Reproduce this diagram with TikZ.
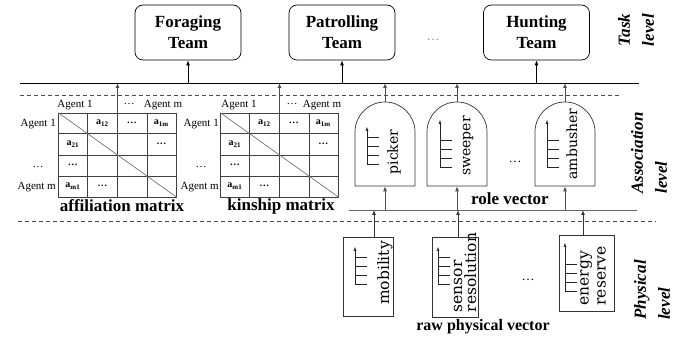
\documentclass[tikz,border=0pt]{standalone}
\usepackage{fontspec}
\setmainfont{Liberation Serif}
\newfontfamily\widefont{DejaVu Serif}
\usetikzlibrary{arrows.meta,shapes.misc,calc}

% small "vector" glyph: an upward arrow with four ticks
\tikzset{pics/vecicon/.style={code={
  \draw[black!85,-{Latex[length=4pt,width=3pt]}] (0,0) -- (0,-#1);
  \foreach \t in {1,10,19,28} \draw[black!85] (0,-\t) -- (12,-\t);
}}}

% one cell entry of an agent matrix
\newcommand\mcell[4]{%
  \node[cell] (#1-#2-#3) at ($(#1.north west)+({(#3-0.5)*29.5},{(#2-0.5)*21})$) {#4};}

% inner grid lines and diagonal of an agent matrix
\newcommand\mgrid[1]{%
  \foreach \i in {1,2,3} {
    \draw[gridline] ($(#1.north west)!\i/4!(#1.north east)$) -- ($(#1.south west)!\i/4!(#1.south east)$);
    \draw[gridline] ($(#1.north west)!\i/4!(#1.south west)$) -- ($(#1.north east)!\i/4!(#1.south east)$);
  }
  \draw[black!55, line width=0.7pt] (#1.north west) -- (#1.south east);}

\begin{document}
\begin{tikzpicture}[x=1pt,y=-1pt,
  >={Latex[length=5pt,width=4pt]},
  team/.style={draw, line width=0.7pt, rounded corners=8pt, minimum width=106pt,
    minimum height=55pt, align=center, inner sep=0pt,
    font=\fontsize{17}{21}\selectfont\bfseries},
  levellabel/.style={rotate=90, align=left, inner sep=0pt,
    font=\fontsize{17}{24}\selectfont\bfseries\itshape},
  rolebox/.style={rounded rectangle, rounded rectangle west arc=none, draw=black!80,
    line width=0.7pt, rotate=90, minimum width=84pt, minimum height=60pt, inner sep=0pt},
  rawbox/.style={draw=black!80, line width=0.7pt, inner sep=0pt},
  rolename/.style={rotate=90, inner sep=0pt, font=\widefont\fontsize{14}{14}\selectfont},
  rawname/.style={rotate=90, align=left, inner sep=0pt,
    font=\widefont\fontsize{15.5}{14}\selectfont},
  caption/.style={inner sep=0pt, font=\fontsize{17}{20}\selectfont\bfseries},
  agent/.style={inner sep=0pt, font=\fontsize{11}{12}\selectfont},
  cell/.style={inner sep=0pt, font=\fontsize{10}{12}\selectfont\bfseries},
  mgridbox/.style={draw=black!75, line width=0.7pt, minimum width=118pt,
    minimum height=84pt, inner sep=0pt},
  gridline/.style={draw=black!75, line width=0.7pt},
  mainline/.style={line width=0.9pt},
  grayline/.style={draw=black!60, line width=0.9pt},
  dashline/.style={draw=black!70, line width=0.7pt, dash pattern=on 4pt off 3pt},
  dots/.style={inner sep=0pt, font=\fontsize{13}{14}\selectfont},
]
\useasboundingbox (0,0) rectangle (694,339);

% ---------- task level ----------
\node[team] (forage) at (188,32.5) {Foraging\\Team};
\node[team] (patrol) at (342,32.5) {Patrolling\\Team};
\node[team] (hunt) at (536.5,32.5) {Hunting\\Team};
\node[dots, text=black!45] (team-dots) at (433,40) {\dots};
\node[levellabel] (task-lvl) at (636,30) {Task\\level};

\coordinate (tl-w) at (20,83);
\coordinate (tl-e) at (639,83);
\draw[mainline] (tl-w) -- (tl-e);
\foreach \t in {forage,patrol,hunt}
  \draw[->, mainline] (\t.south |- tl-w) -- (\t.south);

\coordinate (d1-w) at (20,95);
\coordinate (d1-e) at (620,95);
\draw[dashline] (d1-w) -- (d1-e);

% ---------- association level: agent matrices ----------
\node[mgridbox] (aff) at (117.5,155) {};
\node[mgridbox] (kin) at (279.5,155) {};
\mgrid{aff}
\mgrid{kin}
\foreach \m in {aff,kin} {
  \mcell{\m}{1}{2}{a\textsubscript{12}}
  \mcell{\m}{1}{3}{\dots}
  \mcell{\m}{1}{4}{a\textsubscript{1m}}
  \mcell{\m}{2}{1}{a\textsubscript{21}}
  \mcell{\m}{2}{4}{\dots}
  \mcell{\m}{3}{1}{\dots}
  \mcell{\m}{4}{1}{a\textsubscript{m1}}
  \mcell{\m}{4}{2}{\dots}
}

% column and row headers
\node[agent] (aff-c1) at (75,105) {Agent 1};
\node[agent] (aff-cd) at (129,104) {\dots};
\node[agent] (aff-cm) at (163,105) {Agent m};
\node[agent, anchor=east] (aff-r1) at (56,124) {Agent 1};
\node[agent] (aff-rd) at (38,167) {\dots};
\node[agent, anchor=east] (aff-rm) at (56,187) {Agent m};

\node[agent] (kin-c1) at (239,105) {Agent 1};
\node[agent] (kin-cd) at (292,104) {\dots};
\node[agent] (kin-cm) at (322,105) {Agent m};
\node[agent, anchor=east] (kin-r1) at (219,124) {Agent 1};
\node[agent] (kin-rd) at (201,167) {\dots};
\node[agent, anchor=east] (kin-rm) at (219,187) {Agent m};

\node[caption] (aff-cap) at (122,206) {affiliation matrix};
\node[caption] (kin-cap) at (281,206) {kinship matrix};

\draw[->, grayline, draw=black!70] (aff.north) -- (aff.north |- tl-w);
\draw[->, grayline, draw=black!70] (kin.north) -- (kin.north |- tl-w);

% ---------- association level: roles ----------
\node[rolebox] (picker) at (385,144) {};
\node[rolebox] (sweeper) at (457,144) {};
\node[rolebox] (ambusher) at (565,144) {};
\pic (picker-icon) at (367,165) {vecicon=38};
\pic (sweeper-icon) at (440,168) {vecicon=48};
\pic (ambusher-icon) at (547,168) {vecicon=48};
\node[rolename] (picker-txt) at (394,152) {picker};
\node[rolename] (sweeper-txt) at (468,146) {sweeper};
\node[rolename] (ambusher-txt) at (572,144) {ambusher};
\node[dots] (role-dots) at (515,162) {\dots};

\coordinate (rv-w) at (349,210);
\coordinate (rv-e) at (637,210);
\draw[grayline] (rv-w) -- (rv-e);
\node[caption] (rv-cap) at (510,199) {role vector};
\node[levellabel] (assoc-lvl) at (649,153) {Association\\level};

\foreach \r in {picker,sweeper,ambusher} {
  \draw[->, grayline, draw=black!70] (\r.east) -- (\r.east |- tl-w);
  \draw[->, grayline, draw=black!70] (\r.west |- rv-w) -- (\r.west);
}

\coordinate (d2-w) at (18,221);
\coordinate (d2-e) at (656,221);
\draw[dashline] (d2-w) -- (d2-e);

% ---------- physical level ----------
\node[rawbox, minimum width=50pt, minimum height=79pt] (mob) at (368,276.5) {};
\node[rawbox, minimum width=46pt, minimum height=80pt] (sens) at (455,277) {};
\node[rawbox, minimum width=55pt, minimum height=76pt] (energy) at (586.5,273) {};
\pic (mob-icon) at (355,285) {vecicon=38};
\pic (sens-icon) at (438,285) {vecicon=38};
\pic (energy-icon) at (565,292) {vecicon=49};
\node[rawname] (mob-txt) at (385,273) {mobility};
\node[rawname] (sens-txt) at (465,272.5) {sensor\\resolution};
\node[rawname, font=\widefont\fontsize{15.5}{17}\selectfont] (energy-txt) at (593,276) {energy\\reserve};
\node[dots] (raw-dots) at (528,280) {\dots};
\node[caption, font=\fontsize{16}{20}\selectfont\bfseries] (raw-cap) at (483,327) {raw physical vector};
\node[levellabel] (phys-lvl) at (652,290) {Physical\\level};

\draw[->, grayline, draw=black!80] ([xshift=6pt]mob.north) -- ([xshift=6pt]mob.north |- rv-w);
\draw[->, grayline, draw=black!80] ([xshift=3pt]sens.north) -- ([xshift=3pt]sens.north |- rv-w);
\draw[->, grayline, draw=black!80] ([xshift=-3.5pt]energy.north) -- ([xshift=-3.5pt]energy.north |- rv-w);
\end{tikzpicture}
\end{document}
